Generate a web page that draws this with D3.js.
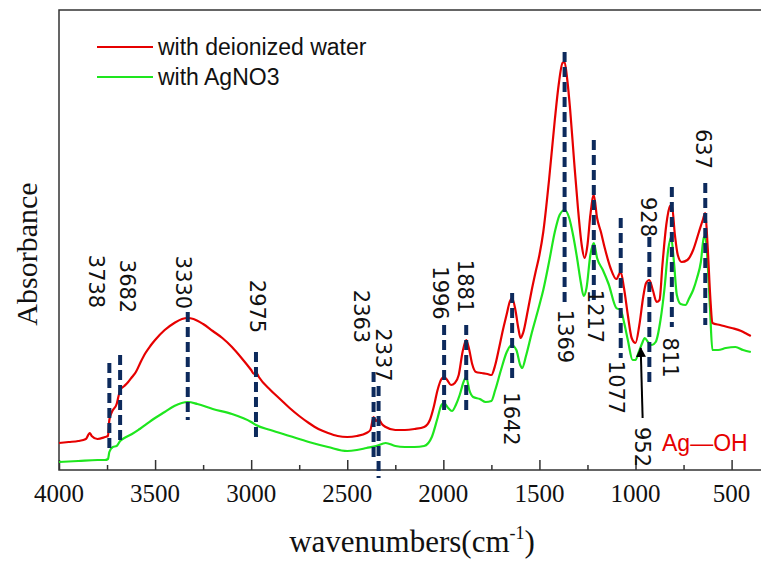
<!DOCTYPE html>
<html>
<head>
<meta charset="utf-8">
<script src="https://cdn.jsdelivr.net/npm/d3@7"></script>
<style>
  html, body { margin: 0; padding: 0; background: #fff; }
  svg { display: block; }
</style>
</head>
<body>
<div id="chart"></div>
<script>
// spectra: wavenumber (cm-1) and absorbance (a.u.)
const redWn = [4000, 3950, 3900, 3860, 3840, 3830, 3800, 3760, 3745, 3738, 3725, 3700, 3690, 3682, 3660, 3640, 3620, 3600, 3575, 3550, 3525, 3500, 3450, 3400, 3360, 3330, 3300, 3250, 3200, 3150, 3100, 3050, 3000, 2985, 2975, 2960, 2900, 2850, 2800, 2750, 2700, 2650, 2600, 2550, 2500, 2450, 2400, 2380, 2363, 2350, 2337, 2320, 2300, 2250, 2200, 2150, 2100, 2070, 2050, 2030, 2010, 1996, 1980, 1960, 1940, 1920, 1900, 1881, 1865, 1850, 1830, 1800, 1770, 1750, 1730, 1710, 1690, 1670, 1655, 1642, 1625, 1610, 1598, 1585, 1560, 1540, 1520, 1500, 1480, 1450, 1420, 1400, 1380, 1369, 1355, 1340, 1320, 1300, 1280, 1265, 1250, 1235, 1217, 1200, 1180, 1160, 1130, 1100, 1077, 1060, 1040, 1020, 1000, 980, 960, 945, 928, 910, 890, 875, 860, 840, 820, 811, 795, 780, 760, 730, 700, 670, 650, 637, 625, 610, 600, 560, 500, 450, 420, 400];
const redAbs = [0.27, 0.28, 0.29, 0.31, 0.37, 0.34, 0.31, 0.33, 0.34, 0.50, 0.58, 0.66, 0.74, 0.80, 0.84, 0.88, 0.93, 0.98, 1.08, 1.17, 1.24, 1.30, 1.40, 1.47, 1.51, 1.52, 1.51, 1.46, 1.39, 1.32, 1.23, 1.12, 1.00, 0.96, 0.98, 0.93, 0.80, 0.71, 0.62, 0.54, 0.47, 0.41, 0.37, 0.34, 0.33, 0.34, 0.37, 0.40, 0.53, 0.49, 0.51, 0.46, 0.43, 0.40, 0.40, 0.41, 0.43, 0.50, 0.63, 0.80, 0.91, 0.93, 0.90, 0.85, 0.87, 0.95, 1.18, 1.30, 1.20, 1.06, 0.98, 0.97, 0.96, 0.95, 1.05, 1.22, 1.40, 1.56, 1.68, 1.72, 1.60, 1.42, 1.32, 1.37, 1.60, 1.80, 1.98, 2.15, 2.38, 2.90, 3.50, 3.85, 4.07, 4.08, 3.90, 3.60, 3.10, 2.63, 2.25, 2.12, 2.25, 2.55, 2.75, 2.52, 2.38, 2.22, 2.02, 1.91, 1.98, 1.82, 1.55, 1.32, 1.27, 1.45, 1.73, 1.87, 1.90, 1.80, 1.68, 1.70, 2.05, 2.45, 2.64, 2.65, 2.35, 2.15, 2.08, 2.10, 2.20, 2.38, 2.50, 2.57, 2.25, 1.70, 1.47, 1.45, 1.42, 1.39, 1.36, 1.34];

const greenWn = [4000, 3900, 3800, 3760, 3745, 3738, 3720, 3700, 3682, 3660, 3620, 3580, 3500, 3450, 3400, 3330, 3280, 3200, 3100, 3000, 2975, 2900, 2800, 2700, 2600, 2500, 2450, 2400, 2350, 2300, 2250, 2200, 2150, 2100, 2060, 2030, 2010, 1996, 1975, 1955, 1935, 1915, 1895, 1881, 1865, 1845, 1810, 1780, 1750, 1730, 1700, 1670, 1645, 1620, 1600, 1590, 1570, 1540, 1500, 1480, 1450, 1420, 1395, 1369, 1345, 1325, 1305, 1285, 1270, 1255, 1235, 1217, 1200, 1170, 1140, 1100, 1077, 1060, 1040, 1015, 1000, 985, 965, 952, 935, 915, 895, 870, 850, 830, 815, 800, 785, 765, 740, 720, 700, 680, 660, 645, 637, 625, 612, 600, 570, 530, 480, 440, 400];
const greenAbs = [0.08, 0.09, 0.10, 0.10, 0.11, 0.18, 0.23, 0.24, 0.29, 0.32, 0.36, 0.41, 0.52, 0.58, 0.64, 0.68, 0.66, 0.61, 0.56, 0.48, 0.45, 0.40, 0.34, 0.28, 0.23, 0.19, 0.20, 0.22, 0.24, 0.27, 0.24, 0.23, 0.23, 0.24, 0.33, 0.52, 0.65, 0.67, 0.62, 0.59, 0.65, 0.75, 0.88, 0.93, 0.80, 0.73, 0.71, 0.68, 0.69, 0.80, 1.00, 1.18, 1.25, 1.20, 1.05, 1.02, 1.14, 1.37, 1.65, 1.80, 2.08, 2.38, 2.55, 2.60, 2.52, 2.35, 2.13, 1.88, 1.74, 1.82, 2.15, 2.27, 2.12, 2.00, 1.86, 1.62, 1.60, 1.48, 1.30, 1.10, 1.10, 1.17, 1.27, 1.32, 1.28, 1.25, 1.28, 1.50, 1.80, 2.20, 2.33, 2.08, 1.75, 1.66, 1.65, 1.72, 1.80, 1.92, 2.08, 2.32, 2.34, 2.08, 1.60, 1.20, 1.20, 1.22, 1.23, 1.20, 1.18];

const seriesNames = ["with deionized water", "with AgNO3"];
const seriesColors = ["#e60000", "#1ee61e"];

const xTicks = [4000, 3500, 3000, 2500, 2000, 1500, 1000, 500];
const xMinorTicks = [3750, 3250, 2750, 2250, 1750, 1250, 750];

// peak markers: dashed line from top to bottom (absorbance), label centre
const peakWn     = [3738, 3682, 3330, 2975, 2363, 2337, 1996, 1881, 1642, 1369, 1217, 1077, 928, 811, 637];
const peakTop    = [1.07, 1.15, 1.58, 1.18, 0.98, 0.84, 1.45, 1.45, 1.77, 4.18, 3.30, 2.52, 2.33, 2.83, 2.87];
const peakBottom = [0.17, 0.27, 0.50, 0.30, 0.10, -0.08, 0.55, 0.57, 0.88, 1.68, 1.65, 1.12, 0.88, 1.43, 1.45];
const labelWn    = [3810, 3648, 3355, 2972, 2426, 2314, 2019, 1889, 1646, 1369, 1213, 1100, 935, 823, 649];
const labelAbs   = [1.885, 1.835, 1.875, 1.635, 1.535, 1.15, 1.77, 1.835, 0.51, 1.335, 1.535, 0.825, 2.53, 1.125, 3.21];

const width = 761, height = 562;
const margin = {top: 10, right: 0, bottom: 92, left: 59};
const serif = "'Times New Roman', 'Liberation Serif', 'DejaVu Serif', serif";
const labelFont = "DejaVu Sans";

const svg = d3.select("#chart").append("svg")
  .attr("width", width)
  .attr("height", height);

const x = d3.scaleLinear()
  .domain([4000, 347])
  .range([margin.left, width - margin.right]);

const y = d3.scaleLinear()
  .domain([0, 4.6])
  .range([height - margin.bottom, margin.top]);

// frame
svg.append("path")
  .attr("fill", "none")
  .attr("stroke", "#333")
  .attr("stroke-width", 1.5)
  .attr("d", `M${width},${margin.top}H${margin.left}V${height - margin.bottom}H${width}`);

// x axis ticks pointing inward, labels drawn separately
svg.append("g")
  .attr("transform", `translate(0,${height - margin.bottom})`)
  .call(d3.axisBottom(x).tickValues(xMinorTicks).tickSize(-5).tickFormat(""))
  .call(g => g.select(".domain").remove())
  .call(g => g.selectAll("line").attr("stroke", "#333").attr("stroke-width", 1.5));

svg.append("g")
  .attr("transform", `translate(0,${height - margin.bottom})`)
  .call(d3.axisBottom(x).tickValues(xTicks).tickSize(-10).tickFormat(""))
  .call(g => g.select(".domain").remove())
  .call(g => g.selectAll("line").attr("stroke", "#333").attr("stroke-width", 1.5));

svg.append("g")
  .selectAll("text")
  .data(xTicks)
  .join("text")
    .attr("x", d => x(d))
    .attr("y", 502)
    .attr("text-anchor", "middle")
    .style("font-family", serif)
    .style("font-size", "25px")
    .attr("fill", "#111")
    .text(d => String(d));

svg.append("text")
  .attr("x", 412)
  .attr("y", 552)
  .attr("text-anchor", "middle")
  .style("font-family", serif)
  .style("font-size", "31px")
  .attr("fill", "#111")
  .call(t => t.append("tspan").text("wavenumbers(cm"))
  .call(t => t.append("tspan").style("font-size", "18px").attr("dy", -13).text("-1"))
  .call(t => t.append("tspan").attr("dy", 13).text(")"));

svg.append("text")
  .attr("transform", `translate(26,${254}) rotate(-90)`)
  .attr("text-anchor", "middle")
  .attr("dominant-baseline", "central")
  .style("font-family", serif)
  .style("font-size", "30px")
  .attr("fill", "#111")
  .text("Absorbance");

// spectra
const line = d3.line()
  .curve(d3.curveMonotoneX)
  .x(d => x(d[0]))
  .y(d => y(d[1]));

const spectra = [d3.zip(redWn, redAbs), d3.zip(greenWn, greenAbs)];

// green first so red sits on top
svg.append("g")
  .selectAll("path")
  .data([1, 0])
  .join("path")
    .attr("fill", "none")
    .attr("stroke", i => seriesColors[i])
    .attr("stroke-width", 2.2)
    .attr("stroke-linejoin", "round")
    .attr("d", i => line(spectra[i]));

// dashed peak markers
svg.append("g")
  .selectAll("line")
  .data(peakWn)
  .join("line")
    .attr("x1", d => x(d))
    .attr("x2", d => x(d))
    .attr("y1", (d, i) => y(peakTop[i]))
    .attr("y2", (d, i) => y(peakBottom[i]))
    .attr("stroke", "#0d2a5c")
    .attr("stroke-width", 4)
    .attr("stroke-dasharray", "10,5");

svg.append("g")
  .selectAll("text")
  .data(peakWn)
  .join("text")
    .attr("transform", (d, i) => `translate(${x(labelWn[i])},${y(labelAbs[i])}) rotate(90)`)
    .attr("text-anchor", "middle")
    .attr("dominant-baseline", "central")
    .attr("font-family", labelFont)
    .attr("font-size", 21)
    .attr("fill", "#111")
    .text(d => d);

// Ag-OH band at 952 with arrow
svg.append("defs").append("marker")
  .attr("id", "arrow")
  .attr("viewBox", "0 0 10 10")
  .attr("refX", 9)
  .attr("refY", 5)
  .attr("markerWidth", 5)
  .attr("markerHeight", 5)
  .attr("orient", "auto")
  .append("path")
    .attr("d", "M0,0L10,5L0,10z")
    .attr("fill", "#000");

svg.append("line")
  .attr("x1", x(963)).attr("y1", y(0.52))
  .attr("x2", x(973)).attr("y2", y(1.22))
  .attr("stroke", "#000")
  .attr("stroke-width", 2)
  .attr("marker-end", "url(#arrow)");

svg.append("text")
  .attr("transform", `translate(${x(968)},${y(0.23)}) rotate(90)`)
  .attr("text-anchor", "middle")
  .attr("dominant-baseline", "central")
  .attr("font-family", labelFont)
  .attr("font-size", 21)
  .attr("fill", "#111")
  .text(952);

svg.append("text")
  .attr("x", 662)
  .attr("y", 451)
  .attr("font-family", "Liberation Sans")
  .attr("font-size", 23)
  .attr("fill", "#e60000")
  .text("Ag\u2014OH");

// legend
const legend = svg.append("g")
  .selectAll("g")
  .data(seriesNames)
  .join("g")
    .attr("transform", (d, i) => `translate(97,${47 + i * 30})`);

legend.append("line")
  .attr("x1", 0).attr("x2", 56)
  .attr("stroke", (d, i) => seriesColors[i])
  .attr("stroke-width", 2.2);

legend.append("text")
  .attr("x", 61)
  .attr("y", 8)
  .attr("font-family", "Liberation Sans")
  .attr("font-size", 23)
  .attr("fill", "#111")
  .text(d => d);
</script>
</body>
</html>
